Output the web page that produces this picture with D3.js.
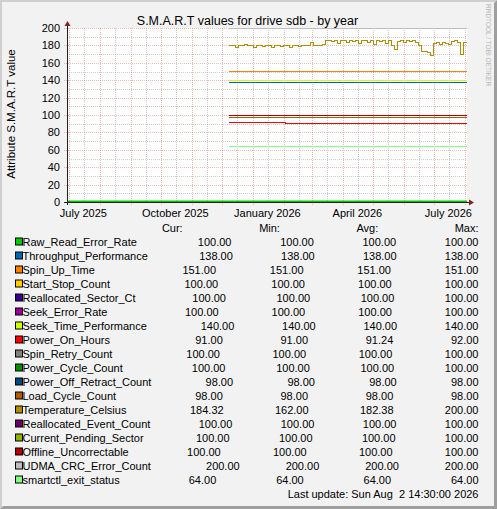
<!DOCTYPE html>
<html>
<head>
<meta charset="utf-8">
<script src="https://cdn.jsdelivr.net/npm/d3@7"></script>
<style>
  body { margin: 0; background: #fff; }
  svg text { font-family: "Liberation Sans", Arial, sans-serif; }
</style>
</head>
<body>
<svg id="chart" width="497" height="509"></svg>
<script>
// legend fields, in draw order (munin palette)
var fields = [
  'Raw_Read_Error_Rate', 'Throughput_Performance', 'Spin_Up_Time', 'Start_Stop_Count',
  'Reallocated_Sector_Ct', 'Seek_Error_Rate', 'Seek_Time_Performance', 'Power_On_Hours',
  'Spin_Retry_Count', 'Power_Cycle_Count', 'Power_Off_Retract_Count', 'Load_Cycle_Count',
  'Temperature_Celsius', 'Reallocated_Event_Count', 'Current_Pending_Sector',
  'Offline_Uncorrectable', 'UDMA_CRC_Error_Count', 'smartctl_exit_status'
];
var colours = [
  '#00CC00', '#0066B3', '#FF8000', '#FFCC00', '#330099', '#990099', '#CCFF00', '#FF0000',
  '#808080', '#008F00', '#00487D', '#B35A00', '#B38F00', '#6B006B', '#8FB300', '#B30000',
  '#BEBEBE', '#80FF80'
];
var curValues = [100, 138, 151, 100, 100, 100, 140, 91, 100, 100, 98, 98, 184.32, 100, 100, 100, 200, 64];
var minValues = [100, 138, 151, 100, 100, 100, 140, 91, 100, 100, 98, 98, 162, 100, 100, 100, 200, 64];
var avgValues = [100, 138, 151, 100, 100, 100, 140, 91.24, 100, 100, 98, 98, 182.38, 100, 100, 100, 200, 64];
var maxValues = [100, 138, 151, 100, 100, 100, 140, 92, 100, 100, 98, 98, 200, 100, 100, 100, 200, 64];
var headers = ['Cur:', 'Min:', 'Avg:', 'Max:'];

var yTicks = [0, 20, 40, 60, 80, 100, 120, 140, 160, 180, 200];
var xLabels = ['2025-07-01', '2025-10-01', '2026-01-01', '2026-04-01', '2026-07-01'];

var graphStart = '2025-06-28 14:30';
var graphEnd = '2026-08-02 14:30';
var dataStart = '2025-12-08 00:00';

// Temperature_Celsius, one reading every 3 days from dataStart
var temperature = [
  180, 180, 178, 180, 180, 182, 180, 180, 178, 180, 180, 179, 180, 180, 178, 180,
  180, 179, 180, 180, 178, 180, 180, 179, 180, 180, 181, 184, 180, 180, 180, 182,
  186, 186, 185, 186, 183, 186, 186, 184, 186, 185, 186, 183, 186, 186, 184, 186,
  182, 186, 185, 186, 183, 186, 180, 176, 185, 186, 184, 186, 185, 186, 184, 180,
  174, 174, 172, 169, 183, 184, 182, 184, 183, 182, 185, 186, 184, 170, 184
];
var powerOnHours = [['2025-12-08 00:00', 92], ['2026-02-02 00:00', 91]];
var zeroLine = [['2025-06-28 14:30', 0]];

var parse = d3.timeParse('%Y-%m-%d %H:%M');
var parseDay = d3.timeParse('%Y-%m-%d');

var svg = d3.select('#chart');
var W = 497, H = 509;
var fs = 11;

// frame
svg.append('rect').attr('width', W).attr('height', H).attr('fill', '#F2F2F2');
svg.append('path').attr('d', 'M0,0H497L495,2H2V507L0,509Z').attr('fill', '#CFCFCF');
svg.append('path').attr('d', 'M0,509H497V0L494,3V506H3Z').attr('fill', '#9E9E9E');

var x = d3.scaleTime().domain([parse(graphStart), parse(graphEnd)]).range([67, 467]);
var y = d3.scaleLinear().domain([0, 200]).range([202, 28]);

svg.append('rect')
  .attr('x', 67).attr('y', 28)
  .attr('width', 400).attr('height', 174)
  .attr('fill', '#fff');

// grid
var grid = svg.append('g').attr('shape-rendering', 'crispEdges');
var minorY = y.ticks(20).filter(function(v) { return yTicks.indexOf(v) < 0; });
var minorColour = 'rgba(170,150,150,0.5)';
var majorColour = 'rgba(222,79,79,0.4)';

grid.selectAll('.ygrid-minor')
  .data(minorY)
  .enter()
  .append('line')
  .attr('x1', 67).attr('x2', 467)
  .attr('y1', function(d) { return Math.round(y(d)) + 0.5; })
  .attr('y2', function(d) { return Math.round(y(d)) + 0.5; })
  .attr('stroke', minorColour)
  .attr('stroke-dasharray', '1,1');

grid.selectAll('.ygrid-major')
  .data(yTicks.filter(function(v) { return v > 0; }))
  .enter()
  .append('line')
  .attr('x1', 64).attr('x2', 467)
  .attr('y1', function(d) { return Math.round(y(d)) + 0.5; })
  .attr('y2', function(d) { return Math.round(y(d)) + 0.5; })
  .attr('stroke', majorColour)
  .attr('stroke-dasharray', '1,1');

var months = d3.timeMonth.range(x.domain()[0], x.domain()[1]);
var midMonths = [d3.timeMonth.floor(x.domain()[0])].concat(months)
  .map(function(m) { return d3.timeDay.offset(m, 15); })
  .filter(function(d) { return d > x.domain()[0] && d < x.domain()[1]; });

grid.selectAll('.xgrid-minor')
  .data(midMonths)
  .enter()
  .append('line')
  .attr('x1', function(d) { return Math.round(x(d)) + 0.5; })
  .attr('x2', function(d) { return Math.round(x(d)) + 0.5; })
  .attr('y1', 28).attr('y2', 202)
  .attr('stroke', minorColour)
  .attr('stroke-dasharray', '1,1');

grid.selectAll('.xgrid-major')
  .data(months)
  .enter()
  .append('line')
  .attr('x1', function(d) { return Math.round(x(d)) + 0.5; })
  .attr('x2', function(d) { return Math.round(x(d)) + 0.5; })
  .attr('y1', 28).attr('y2', 205)
  .attr('stroke', majorColour)
  .attr('stroke-dasharray', '1,1');

// y tick labels
svg.append('g').selectAll('text')
  .data(yTicks)
  .enter()
  .append('text')
  .attr('x', 60)
  .attr('y', function(d) { return y(d) + 4; })
  .attr('text-anchor', 'end')
  .attr('font-size', fs)
  .attr('fill', '#000')
  .text(function(d) { return d; });

// x labels, centred half a month after the tick
var fmtMonth = d3.timeFormat('%B %Y');
svg.append('g').selectAll('text')
  .data(xLabels.map(parseDay))
  .enter()
  .append('text')
  .attr('x', function(d) { return x(d3.timeDay.offset(d, 14)); })
  .attr('y', 217)
  .attr('text-anchor', 'middle')
  .attr('font-size', fs)
  .text(fmtMonth);

// series
var end = parse(graphEnd);
var line = d3.line()
  .x(function(d) { return Math.round(x(d[0])); })
  .y(function(d) { return Math.round(y(d[1])) + 0.5; })
  .curve(d3.curveStepAfter);

function seriesFor(i) {
  var pts;
  if (fields[i] === 'Temperature_Celsius') {
    pts = temperature.map(function(v, k) { return [d3.timeDay.offset(parse(dataStart), k * 3), v]; });
  } else if (fields[i] === 'Power_On_Hours') {
    pts = powerOnHours.map(function(p) { return [parse(p[0]), p[1]]; });
  } else {
    pts = [[parse(dataStart), curValues[i]]];
  }
  pts.push([end, pts[pts.length - 1][1]]);
  return pts;
}

var plot = svg.append('g');

plot.append('path')
  .datum(zeroLine.map(function(p) { return [parse(p[0]), p[1]]; }).concat([[end, 0]]))
  .attr('d', d3.line().x(function(d) { return x(d[0]); }).y(function(d) { return y(d[1]) - 0.5; }))
  .attr('fill', 'none')
  .attr('stroke', '#00CC00')
  .attr('stroke-width', 2);

plot.selectAll('.series')
  .data(fields.map(function(f, i) { return i; }))
  .enter()
  .append('path')
  .attr('d', function(i) { return line(seriesFor(i)); })
  .attr('fill', 'none')
  .attr('stroke', function(i) { return colours[i]; })
  .attr('stroke-width', 1)
  .attr('shape-rendering', 'crispEdges');

// axes with arrows
var axis = svg.append('g');
axis.append('line').attr('x1', 67.5).attr('x2', 67.5).attr('y1', 205).attr('y2', 24)
  .attr('stroke', '#1F1F1F').attr('shape-rendering', 'crispEdges');
axis.append('line').attr('x1', 64).attr('x2', 470).attr('y1', 202.5).attr('y2', 202.5)
  .attr('stroke', '#1F1F1F').attr('shape-rendering', 'crispEdges');
axis.append('path').attr('d', 'M64.5,26L70.5,26L67.5,21Z').attr('fill', '#801F1F');
axis.append('path').attr('d', 'M469,199.5L469,205.5L474,202.5Z').attr('fill', '#801F1F');

// title and side texts
svg.append('text')
  .attr('x', 247.5).attr('y', 24.7)
  .attr('text-anchor', 'middle')
  .attr('font-size', 12.5)
  .text('S.M.A.R.T values for drive sdb - by year');

svg.append('text')
  .attr('transform', 'translate(11,114) rotate(-90)')
  .attr('text-anchor', 'middle')
  .attr('dy', '0.35em')
  .attr('font-size', 11.5)
  .text('Attribute S.M.A.R.T value');

svg.append('text')
  .attr('transform', 'translate(486,4) rotate(90)')
  .attr('font-size', 6.5)
  .attr('fill', '#B8B8B8')
  .text('RRDTOOL / TOBI OETIKER');

// legend, justified like rrdtool
var legendLeft = 15, legendRight = 478.5;
var measure = svg.append('text').attr('font-size', fs).attr('visibility', 'hidden');
function tw(s) { measure.text(s); return measure.node().getComputedTextLength(); }
var spaceW = tw('x x') - tw('xx');
var maxLen = d3.max(fields, function(f) { return f.length; });
var boxW = 7.5;
var fmt = d3.format('.2f');

function justify(widths) {
  var gap = (legendRight - legendLeft - d3.sum(widths)) / (widths.length - 1);
  var pos = legendLeft;
  return widths.map(function(w) { var s = pos; pos += w + gap; return s; });
}
function valueWidth(v) {
  var s = fmt(v);
  return tw(s) + Math.max(0, 6 - s.length) * spaceW;
}

var legend = svg.append('g').attr('font-size', fs);

var headerW = [maxLen * spaceW].concat(headers.map(tw));
var headerX = justify(headerW);
headers.forEach(function(h, k) {
  legend.append('text').attr('x', headerX[k + 1]).attr('y', 231.5).text(h);
});

fields.forEach(function(f, i) {
  var by = 245.5 + i * 14;
  var vals = [curValues[i], minValues[i], avgValues[i], maxValues[i]];
  var widths = [boxW + tw(f) + (maxLen - f.length) * spaceW].concat(vals.map(valueWidth));
  var xs = justify(widths);
  legend.append('rect')
    .attr('x', xs[0] + 0.5).attr('y', by - 7.5)
    .attr('width', 7).attr('height', 7)
    .attr('fill', colours[i])
    .attr('stroke', '#000')
    .attr('stroke-width', 1);
  legend.append('text').attr('x', xs[0] + boxW).attr('y', by).text(f);
  vals.forEach(function(v, k) {
    legend.append('text')
      .attr('x', xs[k + 1] + widths[k + 1])
      .attr('y', by)
      .attr('text-anchor', 'end')
      .text(fmt(v));
  });
});

legend.append('text')
  .attr('x', legendRight).attr('y', 497.5)
  .attr('text-anchor', 'end')
  .text('Last update: Sun Aug\u00a0 2 14:30:00 2026');
measure.remove();
</script>
</body>
</html>
